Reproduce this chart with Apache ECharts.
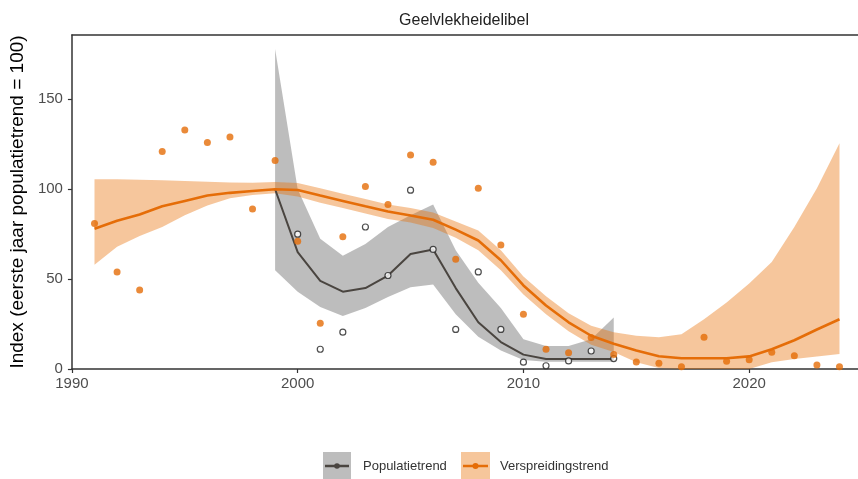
<!DOCTYPE html>
<html><head><meta charset="utf-8">
<script src="https://cdn.jsdelivr.net/npm/echarts@6/dist/echarts.min.js"></script>
<style>html,body{margin:0;padding:0;background:#fff}#c{width:858px;height:479px}</style>
</head><body><div id="c"></div>
<script>
// ---- data ----
const years = [1991,1992,1993,1994,1995,1996,1997,1998,1999,2000,2001,2002,2003,2004,2005,2006,2007,2008,2009,2010,2011,2012,2013,2014,2015,2016,2017,2018,2019,2020,2021,2022,2023,2024];
const verPoints = [81,54,44,121,133,126,129,89,116,71,25.5,73.5,101.5,91.5,119,115,61,100.5,69,30.5,11,9,17.5,8,3.9,3.2,1.3,17.7,4.3,5.2,9.3,7.4,2.2,1.3];
const verTrend = [78,82.5,86,90.5,93.5,96.5,98,99,100,99.6,96.5,93.5,90.5,87.6,85.4,83,77.5,71.5,60.5,46.5,35.3,26,18.5,14,10.3,7.1,6,6,6,7,11,16,22,27.7];
const verLow = [58,68,74,79,85.5,91,95,96.8,97.8,96,92.5,89.5,86.5,83.5,81.5,78.5,73,66,55,41.5,30.5,21,13.5,9.5,3.7,0.5,0,0,0,0,3.7,5.5,7,8.3];
const verHigh = [105.5,105.5,105.3,105,104.6,104.2,103.8,103.6,104,103.5,100.5,97.5,94.5,91.5,89.5,87,82,77,66,51.5,40.5,31,24,20.4,18.5,17.6,19.4,27.7,37,47.5,59.5,79,100.5,125.6];

const popYears = [1999,2000,2001,2002,2003,2004,2005,2006,2007,2008,2009,2010,2011,2012,2013,2014];
const popPoints = [null,75,11,20.5,79,52,99.5,66.5,22,54,22,3.8,1.8,4.5,10,5.8];
const popTrend = [100,65,49,43,45,52,64,66.5,45,26,15,8,5.6,5.6,5.6,5.6];
const popLow = [55,43,34.5,29.5,34,40,45.5,47,30.5,18,10.3,5,4,4,4,4];
const popHigh = [178,100,72.5,63,69.5,79,85.5,91.5,66,48,34,16.5,12.8,12.8,16.5,28.6];

const xTicks = [1990,2000,2010,2020];
const yTicks = [0,50,100,150];
const titleText = 'Geelvlekheidelibel';
const yName = 'Index (eerste jaar populatietrend = 100)';
const legendNames = ['Populatietrend','Verspreidingstrend'];

// ---- chart ----
const FONT = 'Liberation Sans, Arial, sans-serif';
const GREY_LINE = '#4a4540', ORANGE = '#e56d08';
const chart = echarts.init(document.getElementById('c'), null, {renderer:'canvas'});
const pair = (xs, ys) => xs.map((x,i) => [x, ys[i]]);
const triple = (xs, lo, hi) => xs.map((x,i) => [x, lo[i], hi[i]]);

function bandSeries(data, fill, z) {
  return {
    type:'custom', coordinateSystem:'cartesian2d', data, clip:true, silent:true, z,
    encode:{x:0, y:[1,2]},
    renderItem:(params, api) => {
      if (params.dataIndex !== 0) return {type:'group', children:[]};
      const pts = [];
      for (let i = 0; i < data.length; i++) pts.push(api.coord([data[i][0], data[i][2]]));
      for (let i = data.length - 1; i >= 0; i--) pts.push(api.coord([data[i][0], data[i][1]]));
      return {type:'polygon', shape:{points:pts}, style:{fill}};
    }
  };
}

const axisLine = {show:true, lineStyle:{color:'#333', width:1.5}};
chart.setOption({
  animation:false,
  backgroundColor:'#fff',
  grid:{left:71, top:35, right:0, bottom:110, containLabel:false},
  xAxis:[{
    type:'value', min:1990, max:2024.82, position:'bottom',
    axisLine, splitLine:{show:false},
    axisTick:{show:true, customValues:xTicks, length:4, lineStyle:{color:'#333', width:1.2}},
    axisLabel:{customValues:xTicks, formatter:v => String(v), color:'#4d4d4d', fontSize:15, fontFamily:FONT, margin:7}
  },{
    type:'value', min:1990, max:2024.82, position:'top',
    axisLine, splitLine:{show:false}, axisTick:{show:false}, axisLabel:{show:false}
  }],
  yAxis:{
    type:'value', min:0, max:185.8,
    axisLine, splitLine:{show:false},
    axisTick:{show:true, customValues:yTicks, length:4, lineStyle:{color:'#333', width:1.2}},
    axisLabel:{customValues:yTicks, formatter:v => String(v), color:'#4d4d4d', fontSize:15, fontFamily:FONT, margin:9},
    name:yName, nameLocation:'middle', nameGap:44,
    nameTextStyle:{color:'#000', fontSize:19, fontFamily:FONT}
  },
  series:[
    bandSeries(triple(popYears, popLow, popHigh), 'rgba(128,128,128,0.52)', 1),
    bandSeries(triple(years, verLow, verHigh), 'rgba(232,112,8,0.4)', 2),
    {type:'line', name:legendNames[0], data:pair(popYears,popTrend), symbol:'none', lineStyle:{color:GREY_LINE, width:2}, silent:true, z:3},
    {type:'line', name:legendNames[1], data:pair(years,verTrend), symbol:'none', lineStyle:{color:ORANGE, width:2.6}, silent:true, z:3},
    {type:'scatter', data:pair(popYears,popPoints).filter(d=>d[1]!==null), symbol:'circle', symbolSize:6,
      itemStyle:{color:'#fff', borderColor:'#222', borderWidth:1.2}, silent:true, z:4},
    {type:'scatter', data:pair(years,verPoints), symbol:'circle', symbolSize:7,
      itemStyle:{color:ORANGE}, silent:true, z:5}
  ],
  graphic:[
    {type:'text', x:464, y:21, style:{text:titleText, fontSize:16, fontFamily:FONT, fill:'#222', align:'center', verticalAlign:'middle'}},
    {type:'rect', shape:{x:323, y:452, width:28, height:27}, style:{fill:'#bdbdbd'}},
    {type:'line', shape:{x1:325, y1:466, x2:349, y2:466}, style:{stroke:GREY_LINE, lineWidth:2.5}},
    {type:'circle', shape:{cx:337, cy:466, r:2.8}, style:{fill:GREY_LINE}},
    {type:'text', x:363, y:466, style:{text:legendNames[0], fontSize:13, fontFamily:FONT, fill:'#333', align:'left', verticalAlign:'middle'}},
    {type:'rect', shape:{x:461, y:452, width:29, height:27}, style:{fill:'#f6c69b'}},
    {type:'line', shape:{x1:463, y1:466, x2:488, y2:466}, style:{stroke:ORANGE, lineWidth:2.5}},
    {type:'circle', shape:{cx:475.5, cy:466, r:3}, style:{fill:ORANGE}},
    {type:'text', x:500, y:466, style:{text:legendNames[1], fontSize:13, fontFamily:FONT, fill:'#333', align:'left', verticalAlign:'middle'}}
  ]
});
</script></body></html>
